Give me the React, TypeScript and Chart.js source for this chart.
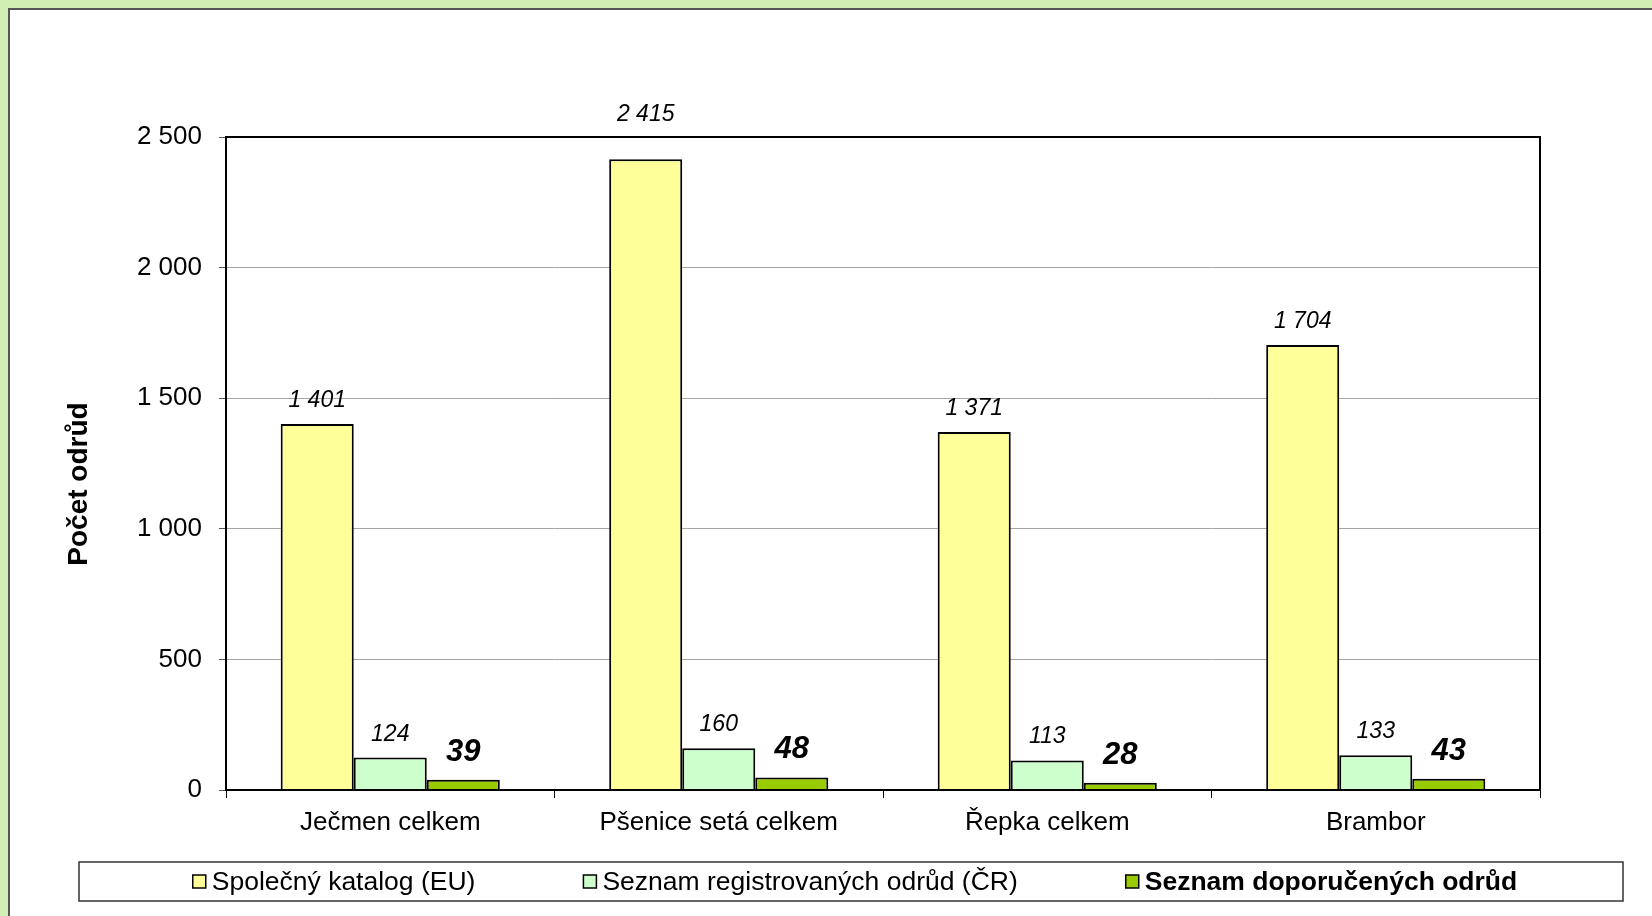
import React, { useEffect, useRef } from 'react';
import { Chart, registerables } from 'chart.js';
Chart.register(...registerables);

const categories = ['Ječmen celkem', 'Pšenice setá celkem', 'Řepka celkem', 'Brambor'];
const seriesNames = ['Společný katalog (EU)', 'Seznam registrovaných odrůd (ČR)', 'Seznam doporučených odrůd'];
const euCatalog = [1401, 2415, 1371, 1704];
const czRegistered = [124, 160, 113, 133];
const recommended = [39, 48, 28, 43];
const yMin = 0;
const yMax = 2500;
const yStep = 500;
const yTitle = 'Počet odrůd';
const colors = ['#FFFF99', '#CCFFCC', '#99CC00'];

const W = 1652;
const H = 916;
const FONT = '"Liberation Sans", Arial, Helvetica, sans-serif';

const fmt = (v: number) => String(v).replace(/\B(?=(\d{3})+(?!\d))/g, ' ');

const framePlugin = {
  id: 'frame',
  beforeDraw(chart: any) {
    const ctx = chart.ctx;
    ctx.save();
    ctx.fillStyle = '#d1efb3';
    ctx.fillRect(0, 0, W, H);
    ctx.fillStyle = '#ffffff';
    ctx.fillRect(9, 9, W, H);
    ctx.strokeStyle = '#555555';
    ctx.lineWidth = 2;
    ctx.beginPath();
    ctx.moveTo(9, H);
    ctx.lineTo(9, 9);
    ctx.lineTo(W, 9);
    ctx.stroke();
    ctx.restore();
  },
};

const overlayPlugin = {
  id: 'overlay',
  afterDraw(chart: any) {
    const ctx = chart.ctx;
    const area = chart.chartArea;
    ctx.save();
    // plot border
    ctx.strokeStyle = '#000000';
    ctx.lineWidth = 2;
    ctx.strokeRect(area.left, area.top, area.right - area.left, area.bottom - area.top);

    // y-axis title
    ctx.save();
    ctx.translate(79, 484);
    ctx.rotate(-Math.PI / 2);
    ctx.font = `bold 28px ${FONT}`;
    ctx.fillStyle = '#000';
    ctx.textAlign = 'center';
    ctx.textBaseline = 'middle';
    ctx.fillText(yTitle, 0, 0);
    ctx.restore();

    // data labels
    chart.data.datasets.forEach((ds: any, di: number) => {
      const meta = chart.getDatasetMeta(di);
      const bold = di === 2;
      const size = bold ? 31 : 23;
      ctx.font = `${bold ? 'bold ' : ''}italic ${size}px ${FONT}`;
      ctx.fillStyle = '#000';
      ctx.textAlign = 'center';
      ctx.textBaseline = 'alphabetic';
      meta.data.forEach((el: any, i: number) => {
        const v = ds.data[i];
        const cap = size * 0.72;
        let base = el.y - (bold ? 19 : 17);
        if (base - cap < area.top + 3) base = area.top - 16;
        ctx.fillText(fmt(v), el.x, base);
      });
    });

    // legend
    const bx = 79, by = 862, bw = 1623 - 79, bh = 901 - 862;
    ctx.fillStyle = '#ffffff';
    ctx.fillRect(bx, by, bw, bh);
    ctx.strokeStyle = '#333333';
    ctx.lineWidth = 1.5;
    ctx.strokeRect(bx, by, bw, bh);
    const box = 13, gapBoxText = 6, itemGap = 108;
    const fonts = chart.data.datasets.map((_: any, di: number) => `${di === 2 ? 'bold ' : ''}26.5px ${FONT}`);
    const widths = chart.data.datasets.map((ds: any, di: number) => {
      ctx.font = fonts[di];
      return box + gapBoxText + ctx.measureText(ds.label).width;
    });
    const total = widths.reduce((a: number, b: number) => a + b, 0) + itemGap * (widths.length - 1);
    let x = bx + (bw - total) / 2 + 4;
    const cy = by + bh / 2;
    chart.data.datasets.forEach((ds: any, di: number) => {
      ctx.fillStyle = ds.backgroundColor;
      ctx.fillRect(x, cy - box / 2, box, box);
      ctx.strokeStyle = '#000';
      ctx.lineWidth = 1.5;
      ctx.strokeRect(x, cy - box / 2, box, box);
      ctx.font = fonts[di];
      ctx.fillStyle = '#000';
      ctx.textAlign = 'left';
      ctx.textBaseline = 'middle';
      ctx.fillText(ds.label, x + box + gapBoxText, cy + 1);
      x += widths[di] + itemGap;
    });
    ctx.restore();
  },
};

export default function App() {
  const ref = useRef<HTMLCanvasElement | null>(null);
  useEffect(() => {
    document.body.style.margin = '0';
    const canvas = ref.current;
    if (!canvas) return;
    const series = [euCatalog, czRegistered, recommended];
    const chart = new Chart(canvas, {
      type: 'bar',
      data: {
        labels: categories,
        datasets: series.map((d, i) => ({
          label: seriesNames[i],
          data: d,
          backgroundColor: colors[i],
          borderColor: '#000000',
          borderWidth: 2,
          categoryPercentage: 0.667,
          barPercentage: 1,
        })),
      },
      options: {
        responsive: false,
        animation: false,
        devicePixelRatio: 1,
        layout: { padding: { left: 64, top: 137, right: 112, bottom: 0 } },
        plugins: { legend: { display: false }, tooltip: { enabled: false }, title: { display: false } },
        scales: {
          x: {
            grid: { display: true, drawOnChartArea: false, offset: true, tickLength: 8, color: '#000', lineWidth: 1 },
            border: { display: false },
            ticks: { font: { family: FONT, size: 26 }, color: '#000', padding: 9 },
            afterFit: (s: any) => { s.height = 126; },
          },
          y: {
            min: yMin,
            max: yMax,
            grid: { color: '#a6a6a6', lineWidth: 1, tickLength: 7, tickColor: '#555' },
            border: { display: false },
            ticks: {
              stepSize: yStep,
              font: { family: FONT, size: 26 },
              color: '#000',
              padding: 17,
              callback: (v: any) => fmt(Number(v)),
            },
            afterFit: (s: any) => { s.width = 162; },
          },
        },
      },
      plugins: [framePlugin, overlayPlugin],
    });
    return () => chart.destroy();
  }, []);
  return <canvas ref={ref} width={W} height={H} style={{ display: 'block', width: W, height: H }} />;
}
